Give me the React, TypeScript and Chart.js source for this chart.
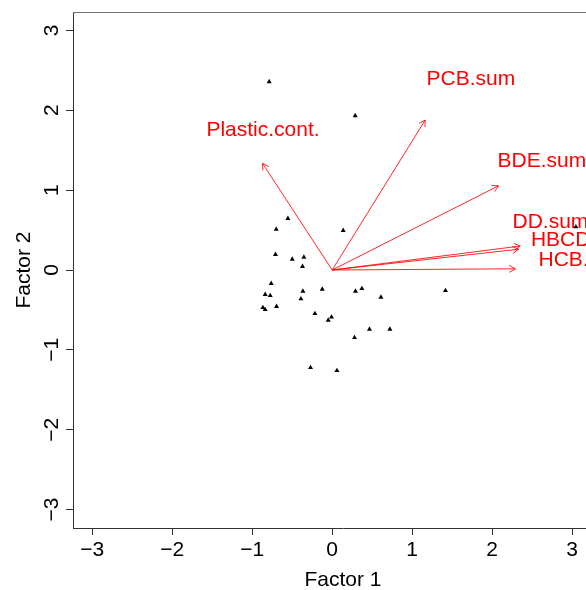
import React, { useEffect, useRef } from 'react';
import { Chart, registerables } from 'chart.js';
Chart.register(...registerables);

// Factor scores (black triangles)
const scoreX = [-0.554, -0.70, 0.1375, -0.709, -0.50, -0.354, -0.371, -0.7625, -0.8375, -0.775, -0.366, -0.125, -0.391, 0.291, 0.371, 0.609, 1.416, -0.866, -0.8375, -0.696, -0.216, -0.009, -0.05, 0.466, 0.721, 0.279, -0.271, 0.059, -0.7875, 0.2875, 3.046];
const scoreY = [0.645, 0.508, 0.495, 0.194, 0.135, 0.160, 0.044, -0.169, -0.307, -0.320, -0.266, -0.241, -0.362, -0.266, -0.232, -0.341, -0.257, -0.470, -0.495, -0.457, -0.545, -0.590, -0.629, -0.742, -0.742, -0.846, -1.222, -1.259, 2.357, 1.931, 0.54];

// Variable loadings (red arrows) and their label positions
const varNames = ['Plastic.cont.', 'PCB.sum', 'BDE.sum', 'DD.sum', 'HBCD.sum', 'HCB.sum'];
const loadX = [-0.871, 1.1625, 2.079, 2.35, 2.33, 2.29];
const loadY = [1.335, 1.877, 1.054, 0.30, 0.26, 0.015];
const labelX = [-0.865, 1.734, 2.621, 2.728, 3.14, 3.14];
const labelY = [1.746, 2.388, 1.366, 0.603, 0.377, 0.127];

const xTicks = [-3, -2, -1, 0, 1, 2, 3];
const yTicks = [-3, -2, -1, 0, 1, 2, 3];
const xTitle = 'Factor 1';
const yTitle = 'Factor 2';

const FONT = "'Liberation Sans', Arial, Helvetica, sans-serif";
const fmt = (v: number) => (v < 0 ? '\u2212' + Math.abs(v) : String(v));

export default function App() {
  const ref = useRef<HTMLCanvasElement>(null);

  useEffect(() => {
    const canvas = ref.current;
    if (!canvas) return;

    const extras = {
      id: 'biplotExtras',
      beforeDatasetsDraw(chart: any) {
        const { ctx, scales } = chart;
        const x = scales.x, y = scales.y;
        ctx.save();
        ctx.fillStyle = '#ff0000';
        ctx.font = `21px ${FONT}`;
        ctx.textAlign = 'center';
        ctx.textBaseline = 'middle';
        varNames.forEach((n, i) => {
          ctx.fillText(n, x.getPixelForValue(labelX[i]), y.getPixelForValue(labelY[i]));
        });
        ctx.restore();
      },
      afterDatasetsDraw(chart: any) {
        const { ctx, scales, chartArea } = chart;
        const x = scales.x, y = scales.y;
        ctx.save();
        ctx.strokeStyle = 'rgba(255,0,0,0.85)';
        ctx.lineWidth = 1;
        const ox = x.getPixelForValue(0), oy = y.getPixelForValue(0);
        const len = 7, spread = Math.PI / 6;
        loadX.forEach((lx, i) => {
          const tx = x.getPixelForValue(lx), ty = y.getPixelForValue(loadY[i]);
          const ang = Math.atan2(ty - oy, tx - ox);
          ctx.beginPath();
          ctx.moveTo(tx - len * Math.cos(ang - spread), ty - len * Math.sin(ang - spread));
          ctx.lineTo(tx, ty);
          ctx.lineTo(tx - len * Math.cos(ang + spread), ty - len * Math.sin(ang + spread));
          ctx.stroke();
        });
        ctx.restore();
        // top and right edges of the box
        ctx.save();
        ctx.strokeStyle = '#7a6e6e';
        ctx.lineWidth = 1;
        ctx.beginPath();
        ctx.moveTo(chartArea.left, Math.round(chartArea.top) + 0.5);
        ctx.lineTo(chartArea.right, Math.round(chartArea.top) + 0.5);
        ctx.lineTo(chartArea.right, chartArea.bottom);
        ctx.stroke();
        ctx.restore();
      },
    };

    const arrowSets = varNames.map((n, i) => ({
      label: n,
      data: [{ x: 0, y: 0 }, { x: loadX[i], y: loadY[i] }],
      showLine: true,
      borderColor: 'rgba(255,0,0,0.85)',
      borderWidth: 1,
      pointRadius: 0,
      order: 2,
    }));

    const chart = new Chart(canvas, {
      type: 'scatter',
      data: {
        datasets: [
          {
            label: 'scores',
            data: scoreX.map((v, i) => ({ x: v, y: scoreY[i] })),
            pointStyle: 'triangle',
            pointRadius: 2.9,
            backgroundColor: '#000',
            borderColor: '#000',
            borderWidth: 0,
            order: 1,
          } as any,
          ...arrowSets,
        ],
      },
      options: {
        responsive: false,
        animation: false,
        devicePixelRatio: 1,
        events: [],
        layout: { padding: { top: 12, left: 0, right: 7, bottom: 0 }, autoPadding: false },
        plugins: { legend: { display: false }, tooltip: { enabled: false } },
        scales: {
          x: {
            type: 'linear',
            position: 'bottom',
            min: -3.24,
            max: 3.51,
            afterBuildTicks: (s: any) => { s.ticks = xTicks.map((v) => ({ value: v })); },
            afterFit: (s: any) => { s.height = 62; s.paddingLeft = 0; s.paddingRight = 0; },
            grid: { drawOnChartArea: false, drawTicks: true, tickLength: 7, color: '#333', lineWidth: 1 },
            border: { display: true, color: '#333', width: 1 },
            ticks: { font: { family: FONT, size: 21 }, color: '#000', padding: 3, maxRotation: 0, autoSkip: false, callback: (v: any) => fmt(Number(v)) },
            title: { display: true, text: xTitle, font: { family: FONT, size: 21 }, color: '#000', padding: { top: 0, bottom: -3 } },
          },
          y: {
            type: 'linear',
            position: 'left',
            min: -3.23,
            max: 3.23,
            afterBuildTicks: (s: any) => { s.ticks = yTicks.map((v) => ({ value: v })); },
            afterFit: (s: any) => { s.width = 73; s.paddingTop = 0; s.paddingBottom = 0; },
            grid: { drawOnChartArea: false, drawTicks: true, tickLength: 7, color: '#333', lineWidth: 1 },
            border: { display: true, color: '#333', width: 1 },
            ticks: { font: { family: FONT, size: 21 }, color: '#000', padding: 2, minRotation: 90, maxRotation: 90, crossAlign: 'center', autoSkip: false, callback: (v: any) => fmt(Number(v)) },
            title: { display: true, text: yTitle, font: { family: FONT, size: 21 }, color: '#000', padding: { top: 12, bottom: 0 } },
          },
        },
      } as any,
      plugins: [extras],
    });
    return () => chart.destroy();
  }, []);

  return (
    <div style={{ position: 'absolute', left: 0, top: 0, width: 586, height: 590, overflow: 'hidden', background: '#fff' }}>
      <canvas ref={ref} width={620} height={590} style={{ display: 'block', width: 620, height: 590 }} />
    </div>
  );
}
